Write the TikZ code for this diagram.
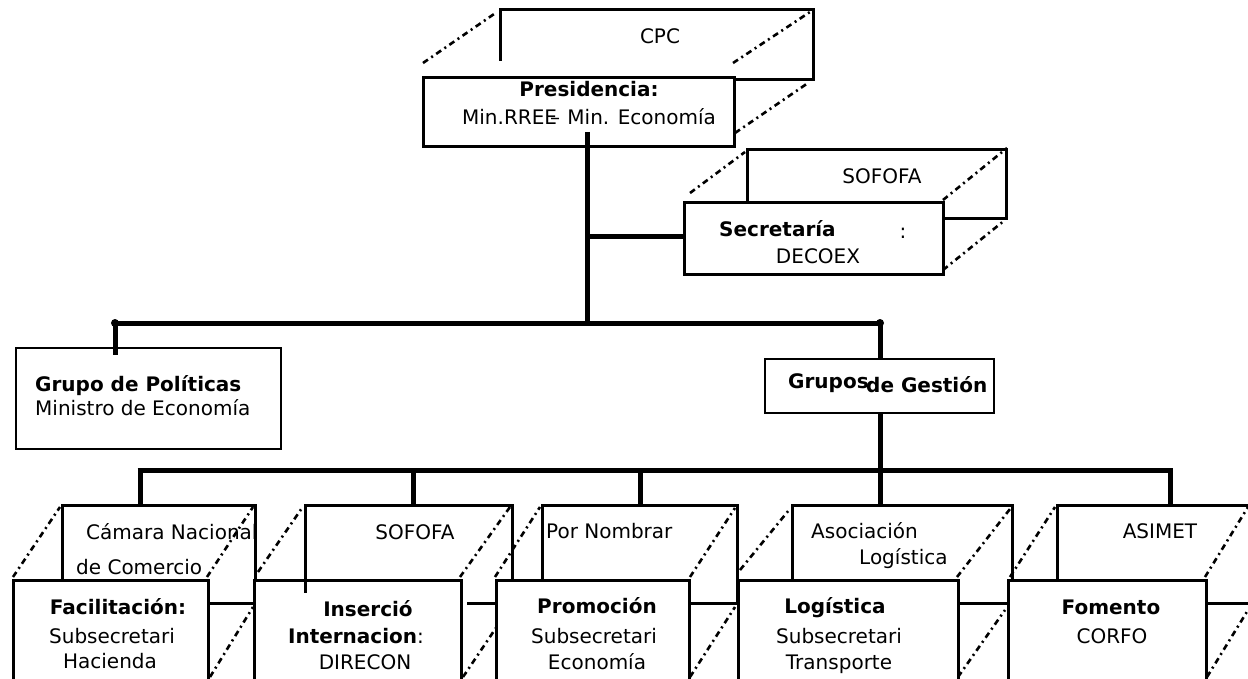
\documentclass[tikz,border=0pt]{standalone}
\usepackage{fontspec}
\setmainfont{DejaVu Sans}
\tikzset{
  conn/.style={line width=5pt},
  boxline/.style={line width=3pt},
  thinbox/.style={draw, line width=1.6pt, rectangle, inner sep=0pt, anchor=north west, fill=white},
  dd/.style={line width=2.6pt, dash pattern=on 6pt off 4pt on 2pt off 4pt},
  front/.style={draw, line width=3pt, fill=white, rectangle, inner sep=0pt, anchor=north west},
  txt/.style={inner sep=0pt, anchor=mid, yshift=-3.5pt, font=\fontsize{20}{24}\selectfont},
  ltxt/.style={txt, anchor=mid west},
  btxt/.style={inner sep=0pt, anchor=mid, yshift=-3.5pt, font=\fontsize{20}{24}\selectfont\bfseries},
  lbtxt/.style={btxt, anchor=mid west},
  jdot/.style={circle, fill=black, inner sep=0pt, minimum size=8pt},
}
\begin{document}
\begin{tikzpicture}[x=1pt,y=-1pt]
\useasboundingbox (0,0) rectangle (1248,679);
\clip (0,0) rectangle (1248,679);
\fill[white] (0,0) rectangle (1248,679);

% ---------- CPC / Presidencia ----------
\draw[boxline] (500,61) -- (500,10) -- (813,10) -- (813,80) -- (733,80);
\draw[dd] (423,63) -- (497,12);
\draw[dd] (733,63) -- (810,12);
\draw[dd] (735,133) -- (808,83);
\node[front, minimum width=311pt, minimum height=69pt] (pres) at (422,76) {};
\node[txt] (cpc) at (660,37) {CPC};
\node[btxt] (prest) at (589,90) {Presidencia:};
\node[txt] (presm) at (589,118) {Min.RREE\kern-7pt–\kern1pt{} Min. Economía};

% ---------- SOFOFA / Secretaria ----------
\draw[boxline] (747,201) -- (747,150) -- (1006,150) -- (1006,219) -- (942,219);
\draw[dd] (690,193) -- (745,152);
\draw[dd] (943,200) -- (1007,148);
\draw[dd] (943,270) -- (1005,220);
\node[front, minimum width=259pt, minimum height=72pt] (sec) at (683,201) {};
\node[txt] (sofofa1) at (882,177) {SOFOFA};
\node[lbtxt] (sect) at (719,230) {Secretaría};
\node[txt] (secc) at (903,232) {:};
\node[txt] (secd) at (818,257) {DECOEX};

% ---------- upper connectors ----------
\coordinate (pdrop) at (587,132);
\coordinate (jsec) at (587,237);
\coordinate (jmain) at (587,323);
\draw[conn] (pdrop) -- (jmain);
\draw[conn] (jsec) -- (sec.west |- jsec);
\node[jdot] (dl) at (115,323) {};
\node[jdot] (dr) at (880,323) {};
\draw[conn] (dl.center) -- (dr.center);

% ---------- Grupo de Politicas ----------
\node[thinbox, minimum width=265pt, minimum height=101pt] (gpol) at (15,347) {};
\draw[conn] (dl.center) -- (115,355);
\node[lbtxt] (gpolt) at (35,385) {Grupo de Políticas};
\node[ltxt] (gpolm) at (35,409) {Ministro de Economía};

% ---------- Grupos de Gestion ----------
\node[thinbox, minimum width=229pt, minimum height=54pt] (ggest) at (764,358) {};
\draw[conn] (dr.center) -- (ggest.north -| dr);
\node[lbtxt] (ggt1) at (788,382) {Grupos};
\node[lbtxt] (ggt2) at (866,386) {de Gestión};
\coordinate (bbl) at (140,470);
\coordinate (bbr) at (1170,470);
\draw[conn] (ggest.south -| dr) -- (880,470);
\draw[conn] ([xshift=-2.5pt]bbl) -- ([xshift=2.5pt]bbr);
\foreach \x in {140,413,640,880,1170} \draw[conn] (\x,470) -- (\x,506);

% ---------- bottom back boxes ----------
% G1
\draw[boxline] (62,579) -- (62,505) -- (255,505) -- (255,603) -- (207,603);
\draw[dd] (13,577) -- (60,507);
\draw[dd] (207,577) -- (253,507);
\draw[dd] (210,677) -- (253,607);
% G2
\draw[boxline] (305,579) -- (305,505) -- (512,505) -- (512,603) -- (467,603);
\draw[dd] (258,572) -- (302,508);
\draw[dd] (460,577) -- (510,507);
\draw[dd] (463,677) -- (510,607);
% G3
\draw[boxline] (542,579) -- (542,505) -- (737,505) -- (737,603) -- (688,603);
\draw[dd] (495,577) -- (540,507);
\draw[dd] (690,577) -- (735,508);
\draw[dd] (690,677) -- (735,607);
% G4
\draw[boxline] (792,579) -- (792,505) -- (1012,505) -- (1012,603) -- (957,603);
\draw[dd] (740,570) -- (789,510);
\draw[dd] (957,577) -- (1010,509);
\draw[dd] (958,677) -- (1005,610);
% G5
\draw[boxline] (1057,579) -- (1057,505) -- (1256,505) -- (1256,603) -- (1205,603);
\draw[dd] (1010,577) -- (1055,507);
\draw[dd] (1205,577) -- (1248,507);
\draw[dd] (1207,677) -- (1248,610);

% ---------- bottom front boxes ----------
\node[front, minimum width=195pt, minimum height=110pt] (fac) at (12,579) {};
\node[front, minimum width=207pt, minimum height=110pt] (ins) at (253,579) {};
\node[front, minimum width=193pt, minimum height=110pt] (pro) at (495,579) {};
\node[front, minimum width=220pt, minimum height=110pt] (log) at (737,579) {};
\node[front, minimum width=198pt, minimum height=110pt] (fom) at (1007,579) {};
\draw[boxline] (305,579) -- (305,593);

% ---------- bottom texts ----------
\node[ltxt] (c1a) at (86,533) {Cámara Nacional};
\node[ltxt] (c1b) at (76,568) {de Comercio};
\node[btxt] (f1a) at (118,608) {Facilitación:};
\node[txt] (f1b) at (112,637) {Subsecretari};
\node[txt] (f1c) at (110,662) {Hacienda};

\node[txt] (c2a) at (415,533) {SOFOFA};
\node[btxt] (f2a) at (368,610) {Inserció};
\node[txt] (f2b) at (356,637) {\textbf{Internacion}:};
\node[txt] (f2c) at (365,663) {DIRECON};

\node[ltxt] (c3a) at (546,532) {Por Nombrar};
\node[btxt] (f3a) at (597,607) {Promoción};
\node[txt] (f3b) at (594,637) {Subsecretari};
\node[txt] (f3c) at (597,663) {Economía};

\node[ltxt] (c4a) at (811,532) {Asociación};
\node[ltxt] (c4b) at (859,558) {Logística};
\node[btxt] (f4a) at (835,607) {Logística};
\node[txt] (f4b) at (839,637) {Subsecretari};
\node[txt] (f4c) at (839,663) {Transporte};

\node[txt] (c5a) at (1160,532) {ASIMET};
\node[btxt] (f5a) at (1111,608) {Fomento};
\node[txt] (f5b) at (1112,637) {CORFO};
\end{tikzpicture}
\end{document}
